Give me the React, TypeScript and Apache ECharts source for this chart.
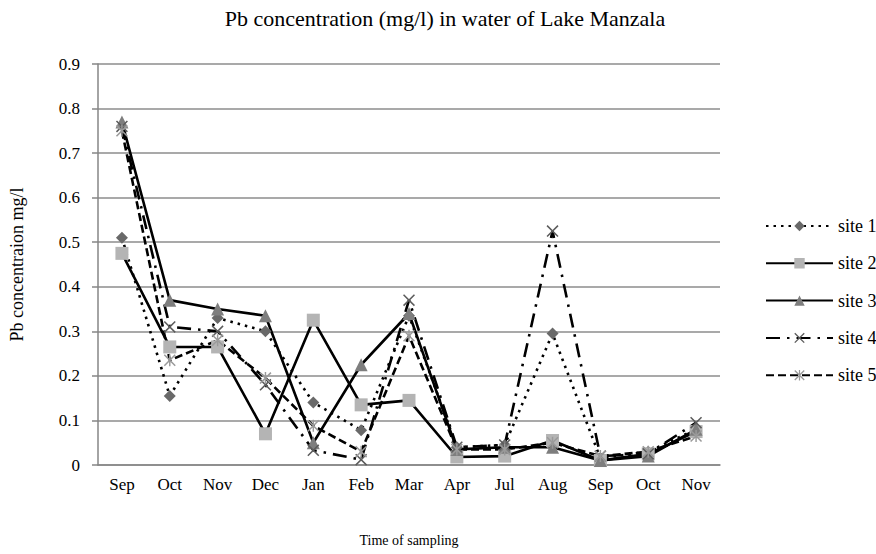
import React, { useEffect, useRef } from "react";
import * as echarts from "echarts";

const categories = ["Sep", "Oct", "Nov", "Dec", "Jan", "Feb", "Mar", "Apr", "Jul", "Aug", "Sep", "Oct", "Nov"];
const site1 = [0.51, 0.155, 0.33, 0.3, 0.14, 0.078, 0.335, 0.04, 0.045, 0.295, 0.015, 0.03, 0.08];
const site2 = [0.475, 0.265, 0.265, 0.07, 0.325, 0.135, 0.145, 0.018, 0.02, 0.055, 0.01, 0.025, 0.075];
const site3 = [0.77, 0.37, 0.35, 0.335, 0.05, 0.225, 0.34, 0.035, 0.04, 0.04, 0.01, 0.02, 0.08];
const site4 = [0.76, 0.31, 0.3, 0.18, 0.033, 0.012, 0.37, 0.04, 0.045, 0.525, 0.02, 0.025, 0.095];
const site5 = [0.75, 0.235, 0.28, 0.195, 0.088, 0.03, 0.29, 0.035, 0.035, 0.05, 0.02, 0.03, 0.065];
const seriesNames = ["site 1", "site 2", "site 3", "site 4", "site 5"];

const FONT = "'Liberation Serif', 'Times New Roman', serif";
const X_PATH = "path://M0,0.9 L0.9,0 L10,9.1 L9.1,10 Z M9.1,0 L10,0.9 L0.9,10 L0,9.1 Z";
const STAR_PATH =
  "path://M4.4,0 L5.6,0 L5.6,10 L4.4,10 Z M0,0.9 L0.9,0 L10,9.1 L9.1,10 Z M9.1,0 L10,0.9 L0.9,10 L0,9.1 Z";

export default function App() {
  const ref = useRef<HTMLDivElement>(null);
  useEffect(() => {
    if (!ref.current) return;
    const chart = echarts.init(ref.current, undefined, { renderer: "svg" });
    const mk = (
      name: string,
      data: number[],
      symbol: string,
      size: number,
      markerColor: string,
      dash: any
    ) => ({
      name,
      type: "line",
      data,
      symbol,
      symbolSize: size,
      showSymbol: true,
      itemStyle: { color: markerColor, borderWidth: 0 },
      lineStyle: { color: "#000", width: 2.6, type: dash },
      emphasis: { disabled: true },
    });
    chart.setOption({
      animation: false,
      backgroundColor: "#fff",
      title: {
        text: "Pb concentration (mg/l) in water of Lake Manzala",
        left: 440,
        textAlign: "center",
        top: 2,
        textStyle: { fontFamily: FONT, fontSize: 22, fontWeight: "normal", color: "#000" },
      },
      legend: {
        orient: "vertical",
        left: 760,
        top: 212,
        itemWidth: 67,
        itemHeight: 13,
        itemGap: 19.3,
        data: seriesNames,
        textStyle: { fontFamily: FONT, fontSize: 18, color: "#000" },
      },
      grid: { left: 98, right: 156, top: 64, bottom: 89, containLabel: false },
      xAxis: {
        type: "category",
        data: categories,
        boundaryGap: true,
        name: "Time of sampling",
        nameLocation: "middle",
        nameGap: 68,
        nameTextStyle: { fontFamily: FONT, fontSize: 14, color: "#000" },
        axisLine: { lineStyle: { color: "#868686", width: 1.5 } },
        axisTick: { show: false },
        axisLabel: { fontFamily: FONT, fontSize: 17, color: "#000", margin: 11, interval: 0 },
      },
      yAxis: {
        type: "value",
        min: 0,
        max: 0.9,
        interval: 0.1,
        name: "Pb concentraion mg/l",
        nameLocation: "middle",
        nameGap: 72,
        nameRotate: 90,
        nameTextStyle: { fontFamily: FONT, fontSize: 18, color: "#000" },
        axisLine: { show: true, lineStyle: { color: "#868686", width: 1.5 } },
        axisTick: { show: true, length: 6, lineStyle: { color: "#868686", width: 1.5 } },
        splitLine: { lineStyle: { color: "#8c8c8c", width: 1.5 } },
        axisLabel: {
          fontFamily: FONT,
          fontSize: 17,
          color: "#000",
          margin: 18,
          formatter: (v: number) => (v === 0 ? "0" : v.toFixed(1)),
        },
      },
      series: [
        mk("site 1", site1, "diamond", 12, "#696969", [2.5, 5]),
        mk("site 2", site2, "rect", 13, "#b4b4b4", "solid"),
        mk("site 3", site3, "triangle", 13, "#7e7e7e", "solid"),
        mk("site 4", site4, X_PATH, 12, "#5c5c5c", [14, 7, 2.5, 7]),
        mk("site 5", site5, STAR_PATH, 12, "#9a9a9a", [8, 4]),
      ],
    });
    return () => chart.dispose();
  }, []);
  return <div ref={ref} style={{ width: 876, height: 554, position: "absolute", left: 0, top: 0 }} />;
}
